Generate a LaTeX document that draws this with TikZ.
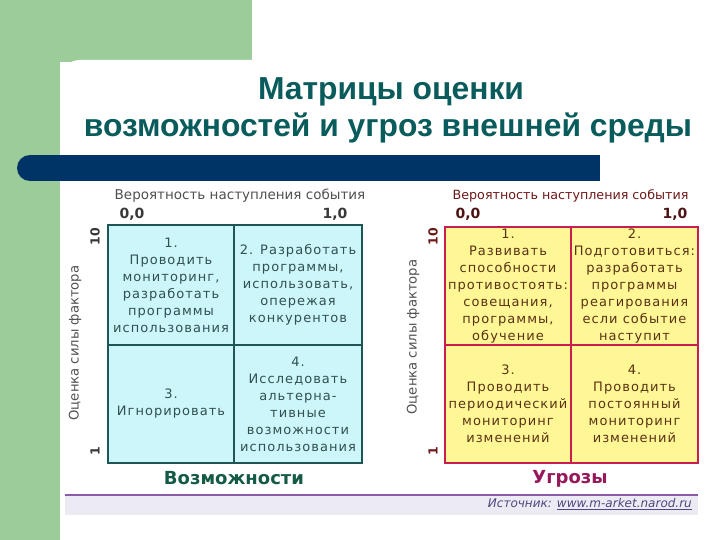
\documentclass[tikz,border=0pt]{standalone}
\usepackage{fontspec}
\setmainfont{DejaVu Sans}
\newfontfamily\titlefont{Liberation Sans}
\newfontfamily\cellfont[LetterSpace=8]{DejaVu Sans}
\definecolor{bggreen}{RGB}{155,204,153}
\definecolor{navybar}{RGB}{0,51,102}
\definecolor{titleteal}{RGB}{10,92,92}
\definecolor{cyanfill}{RGB}{204,246,250}
\definecolor{cyanborder}{RGB}{30,85,85}
\definecolor{cyantext}{RGB}{50,80,80}
\definecolor{yelfill}{RGB}{255,247,150}
\definecolor{redborder}{RGB}{200,30,80}
\definecolor{browntext}{RGB}{90,50,20}
\definecolor{maroon}{RGB}{110,25,25}
\definecolor{axgray}{RGB}{80,80,80}
\definecolor{opgreen}{RGB}{20,90,70}
\definecolor{thrpurple}{RGB}{150,25,90}
\definecolor{srcgray}{RGB}{236,234,242}
\definecolor{srcline}{RGB}{140,90,170}
\definecolor{srctext}{RGB}{80,70,130}
\begin{document}
\begin{tikzpicture}[x=1pt,y=-1pt,
  titletext/.style={font=\titlefont\bfseries\fontsize{31.8}{38}\selectfont, text=titleteal, inner sep=0},
  celltext/.style={font=\cellfont\fontsize{13}{17}\selectfont, align=center, inner sep=0},
  lcell/.style={celltext, draw=cyanborder, fill=cyanfill, line width=1.8pt, text=cyantext},
  rcell/.style={celltext, draw=redborder, fill=yelfill, line width=1.8pt, text=browntext},
  probtext/.style={font=\fontsize{13.5}{16}\selectfont, inner sep=0},
  rprobtext/.style={font=\fontsize{12.7}{15}\selectfont, inner sep=0},
  numtext/.style={font=\bfseries\fontsize{14}{16}\selectfont, inner sep=0},
  axtext/.style={font=\fontsize{13.2}{16}\selectfont, rotate=90, inner sep=0, text=axgray},
  ticktext/.style={font=\bfseries\fontsize{12.5}{14}\selectfont, rotate=90, inner sep=0},
  captext/.style={font=\bfseries\fontsize{18}{21}\selectfont, inner sep=0}]
\useasboundingbox (0,0) rectangle (720,540);
% background
\fill[white] (0,0) rectangle (720,540);
\fill[bggreen] (0,0) rectangle (252,62);
\fill[bggreen] (0,0) rectangle (60,540);
\fill[white, rounded corners=20pt] (60,60) rectangle (760,580);
% navy bar
\fill[navybar] (30,155) rectangle (600,181);
\fill[navybar] (30,168) circle (13);
% title
\node[titletext] (t1) at (391,92) {Матрицы оценки};
\node[titletext] (t2) at (388,128) {возможностей и угроз внешней среды};
% ---------- left matrix ----------
\node[probtext, text=axgray] (lprob) at (240,196) {Вероятность наступления события};
\node[numtext, text=axgray!70!black] (l00) at (132,214) {0,0};
\node[numtext, text=axgray!70!black] (l10) at (335,214) {1,0};
\node[lcell, minimum width=126pt, minimum height=120pt] (l1) at (171,285)
  {1.\\Проводить\\мониторинг,\\разработать\\программы\\использования};
\node[lcell, minimum width=128pt, minimum height=120pt] (l2) at (298,285)
  {2. Разработать\\программы,\\использовать,\\опережая\\конкурентов};
\node[lcell, minimum width=126pt, minimum height=118pt] (l3) at (171,404)
  {3.\\Игнорировать};
\node[lcell, minimum width=128pt, minimum height=118pt] (l4) at (298,404)
  {4.\\Исследовать\\альтерна-\\тивные\\возможности\\использования};
\node[ticktext, text=axgray!70!black] (l10v) at (95,237) {10};
\node[ticktext, text=axgray!70!black] (l1v) at (95,451) {1};
\node[axtext] (lax) at (75,343) {Оценка силы фактора};
\node[captext, text=opgreen] (lcap) at (234,478) {Возможности};
% ---------- right matrix ----------
\node[rprobtext, text=maroon] (rprob) at (570.5,196) {Вероятность наступления события};
\node[numtext, text=maroon!70!black] (r00) at (468,214) {0,0};
\node[numtext, text=maroon!70!black] (r10) at (675,214) {1,0};
\node[rcell, minimum width=126pt, minimum height=118pt] (r1) at (508,286)
  {1.\\Развивать\\способности\\противостоять:\\совещания,\\программы,\\обучение};
\node[rcell, minimum width=127pt, minimum height=118pt] (r2) at (634.5,286)
  {2.\\Подготовиться:\\разработать\\программы\\реагирования\\если событие\\наступит};
\node[rcell, minimum width=126pt, minimum height=118pt] (r3) at (508,404)
  {3.\\Проводить\\периодический\\мониторинг\\изменений};
\node[rcell, minimum width=127pt, minimum height=118pt] (r4) at (634.5,404)
  {4.\\Проводить\\постоянный\\мониторинг\\изменений};
\node[ticktext, text=maroon] (r10v) at (433,237) {10};
\node[ticktext, text=maroon] (r1v) at (433,451) {1};
\node[axtext] (rax) at (413,337) {Оценка силы фактора};
\node[captext, text=thrpurple] (rcap) at (570,479) {Угрозы};
% ---------- source band ----------
\fill[srcgray] (65,495) rectangle (698,515);
\draw[srcline, line width=1.2pt] (65,495) -- (698,495);
\node[anchor=east, inner sep=0, text=srctext, font=\itshape\fontsize{12}{14}\selectfont] (src) at (692,504)
  {Источник: \underline{www.m-arket.narod.ru}};
\end{tikzpicture}
\end{document}
